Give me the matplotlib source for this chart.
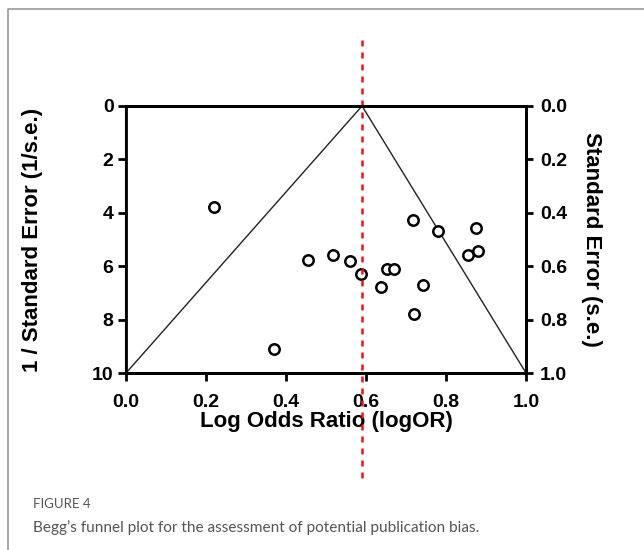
import matplotlib.pyplot as plt
from matplotlib.lines import Line2D

plt.rcParams['font.family'] = ['Liberation Sans', 'DejaVu Sans']

# datos
log_or = [0.221, 0.371, 0.455, 0.518, 0.560, 0.588, 0.637, 0.652, 0.669,
          0.718, 0.720, 0.743, 0.779, 0.856, 0.876, 0.881]
inv_se = [3.80, 9.11, 5.75, 5.59, 5.81, 6.28, 6.79, 6.10, 6.10,
          4.28, 7.79, 6.69, 4.68, 5.59, 4.56, 5.44]
pooled = 0.59
funnel_x = [0.0, pooled, 1.0]
funnel_y = [10, 0, 10]
x_ticks = [0.0, 0.2, 0.4, 0.6, 0.8, 1.0]
y_ticks = [0, 2, 4, 6, 8, 10]
se_ticks = [0.0, 0.2, 0.4, 0.6, 0.8, 1.0]

fig = plt.figure(figsize=(6.44, 5.5), dpi=100)
ax = fig.add_axes([0.1957, 0.3218, 0.6211, 0.4855])

ax.plot(funnel_x, funnel_y, color='#222222', lw=1.0)
ax.plot(log_or, inv_se, 'o', mfc='white', mec='black', mew=1.8, ms=7.5)
ax.axvline(pooled, ymin=-0.395, ymax=1.266, clip_on=False, color='#e8141c',
           lw=1.8, dashes=(2.4, 2.4))

ax.set_xlim(0, 1)
ax.set_ylim(10, 0)
ax.set_xticks(x_ticks)
ax.set_xticklabels([f'{v:.1f}' for v in x_ticks])
ax.set_yticks(y_ticks)
for s in ax.spines.values():
    s.set_linewidth(2)
ax.spines['left'].set_linewidth(1.5)
ax.tick_params(width=2, length=6, labelsize=14)
ax.tick_params(axis='x', pad=9)
ax.tick_params(axis='y', pad=3)
for lab in ax.get_xticklabels() + ax.get_yticklabels():
    lab.set_fontweight('bold')
ax.set_xlabel('Log Odds Ratio (logOR)', fontsize=16, fontweight='bold', labelpad=0)
ax.set_ylabel('1 / Standard Error (1/s.e.)', fontsize=16, fontweight='bold', labelpad=35)

ax2 = ax.twinx()
ax2.set_ylim(1.0, 0.0)
ax2.set_yticks(se_ticks)
ax2.set_yticklabels([f'{v:.1f}' for v in se_ticks])
ax2.tick_params(width=2, length=5, labelsize=14, pad=5)
for lab in ax2.get_yticklabels():
    lab.set_fontweight('bold')
for s in ax2.spines.values():
    s.set_linewidth(2)
ax2.set_ylabel('Standard Error (s.e.)', fontsize=16, fontweight='bold',
               rotation=-90, labelpad=25)

# marco y leyenda de la figura
fig.add_artist(Line2D([0.0125, 0.0125, 1.0], [0.0, 0.983, 0.983],
                      transform=fig.transFigure, color='#9a9a9a', lw=1.2))
fig.text(0.051, 0.077, 'FIGURE 4', fontsize=9.5, color='#555555',
         family=['Lato', 'DejaVu Sans'])
fig.text(0.051, 0.032, 'Begg\u2019s funnel plot for the assessment of potential publication bias.',
         fontsize=11.1, color='#555555', family=['Lato', 'DejaVu Sans'])

fig.savefig('out.png', dpi=100)
